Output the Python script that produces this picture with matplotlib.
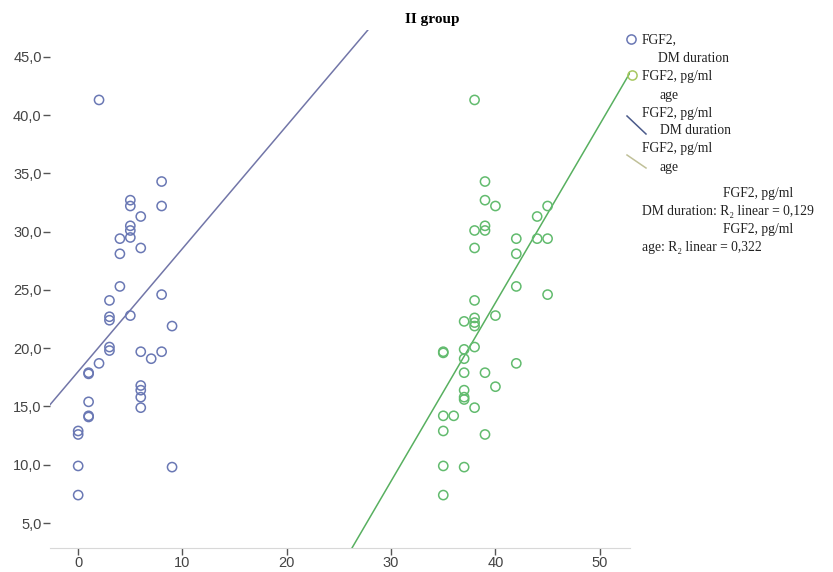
import matplotlib.pyplot as plt
from matplotlib.lines import Line2D
import numpy as np

# FGF2 vs DM duration (years)
dm_x = [2, 8, 8, 5, 5, 6, 5, 5, 5, 4, 6, 4, 4, 8, 3, 3, 3, 5, 9, 3, 3, 6, 8, 7, 2,
        1, 1, 6, 6, 6, 6, 1, 1, 1, 0, 0, 0, 9, 0]
dm_y = [41.3, 34.3, 32.2, 32.7, 32.2, 31.3, 30.5, 30.1, 29.5, 29.4, 28.6, 28.1, 25.3,
        24.6, 24.1, 22.7, 22.4, 22.8, 21.9, 20.1, 19.8, 19.7, 19.7, 19.1, 18.7,
        17.9, 17.8, 16.8, 16.4, 15.8, 14.9, 15.4, 14.2, 14.1, 12.9, 12.6, 9.9, 9.8, 7.4]

# FGF2 vs age (years)
age_x = [38, 39, 39, 40, 45, 44, 38, 39, 39, 44, 45, 42, 38, 42, 42, 45, 38, 37, 38,
         38, 38, 40, 35, 35, 37, 38, 37, 37, 39, 42, 40, 37, 37, 37, 38, 35, 36, 35,
         39, 35, 37, 35]
age_y = [41.3, 34.3, 32.7, 32.2, 32.2, 31.3, 30.1, 30.5, 30.1, 29.4, 29.4, 29.4, 28.6,
         28.1, 25.3, 24.6, 24.1, 22.3, 22.6, 22.2, 21.9, 22.8, 19.7, 19.6, 19.9, 20.1,
         19.1, 17.9, 17.9, 18.7, 16.7, 16.4, 15.8, 15.6, 14.9, 14.2, 14.2, 12.9,
         12.6, 9.9, 9.8, 7.4]

# linear fits: intercept, slope
dm_fit = [18.0, 1.055]
age_fit = [-37.3, 1.53]

blue = "#6a78b4"
green = "#62bb6e"
blue_line = "#7276a8"
green_line = "#58b060"

plt.rcParams["font.family"] = ["Liberation Sans", "DejaVu Sans"]

fig = plt.figure(figsize=(8.33, 5.72), dpi=100)
ax = fig.add_axes([50 / 833, 1 - 548 / 572, 580 / 833, 518 / 572])

xlim = (-2.7, 52.9)
ylim = (2.86, 47.3)

ax.scatter(dm_x, dm_y, s=44, facecolors="none", edgecolors=blue, linewidths=1.1, zorder=3)
ax.scatter(age_x, age_y, s=44, facecolors="none", edgecolors=green, linewidths=1.1, zorder=3)

xs = np.linspace(xlim[0], xlim[1], 200)
ax.plot(xs, dm_fit[0] + dm_fit[1] * xs, color=blue_line, lw=1.1, zorder=2)
ax.plot(xs, age_fit[0] + age_fit[1] * xs, color=green_line, lw=1.1, zorder=2)

ax.set_xlim(xlim)
ax.set_ylim(ylim)
ax.set_xticks([0, 10, 20, 30, 40, 50])
ax.set_yticks([5, 10, 15, 20, 25, 30, 35, 40, 45])
ax.set_yticklabels([f"{v:.1f}".replace(".", ",") for v in [5, 10, 15, 20, 25, 30, 35, 40, 45]])

for s in ["top", "right", "left"]:
    ax.spines[s].set_visible(False)
ax.spines["bottom"].set_color("#d8d8d8")
ax.tick_params(axis="x", length=5, width=1, color="#555555", labelcolor="#444444",
               labelsize=10.5, pad=1)
ax.tick_params(axis="y", length=5, width=1, color="#555555", labelcolor="#444444",
               labelsize=10.5, pad=1)

# title
serif = ["Liberation Serif", "DejaVu Serif"]
fig.text(432 / 833, 1 - 20 / 572, "II group", ha="center", va="center",
         fontsize=11, fontweight="bold", family=serif)

# legend
def px(x, y):
    return x / 833, 1 - y / 572

fs = 9.8
fig.add_artist(Line2D([631 / 833], [1 - 39 / 572], marker="o", ms=6.6, mfc="none",
                      mec=blue, mew=1.1, transform=fig.transFigure))
fig.add_artist(Line2D([632 / 833], [1 - 75 / 572], marker="o", ms=6.6, mfc="none",
                      mec="#a8c860", mew=1.1, transform=fig.transFigure))
fig.add_artist(Line2D([627 / 833, 646 / 833], [1 - 116 / 572, 1 - 134 / 572],
                      color="#4a5a8a", lw=1.1, transform=fig.transFigure))
fig.add_artist(Line2D([627 / 833, 646 / 833], [1 - 155 / 572, 1 - 168 / 572],
                      color="#c0c098", lw=1.1, transform=fig.transFigure))

legend_lines = [
    (642, 40, "FGF2,", "left"),
    (658, 58, "DM duration", "left"),
    (642, 76, "FGF2, pg/ml", "left"),
    (660, 95, "age", "left"),
    (642, 114, "FGF2, pg/ml", "left"),
    (660, 131, "DM duration", "left"),
    (642, 149, "FGF2, pg/ml", "left"),
    (660, 168, "age", "left"),
    (758, 193, "FGF2, pg/ml", "center"),
    (642, 211, "DM duration: R\u2082 linear = 0,129", "left"),
    (758, 229, "FGF2, pg/ml", "center"),
    (642, 248, "age: R\u2082 linear = 0,322", "left"),
]
for x, y, t, ha in legend_lines:
    fx, fy = px(x, y)
    fig.text(fx, fy, t, ha=ha, va="center", fontsize=fs, family=serif, color="#222222")

fig.savefig("out.png", dpi=100)
